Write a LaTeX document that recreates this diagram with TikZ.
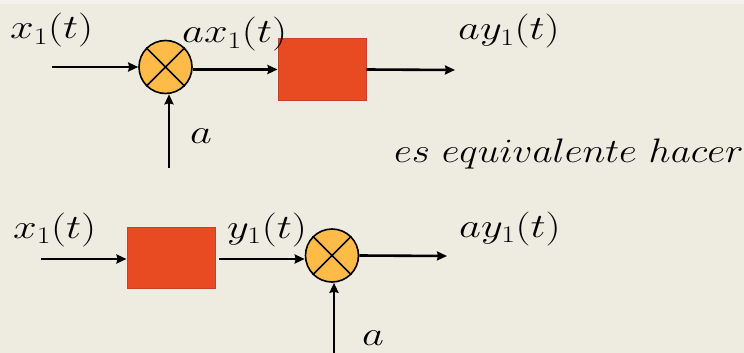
\RequirePackage{fix-cm}
\documentclass[tikz,border=0pt]{standalone}
\usetikzlibrary{arrows.meta}
\definecolor{bg}{HTML}{EEEBE1}
\definecolor{topbg}{HTML}{F3F2EE}
\definecolor{mulfill}{HTML}{FFBB48}
\definecolor{boxfill}{HTML}{E84B22}
\definecolor{boxline}{HTML}{C4422A}
\tikzset{
  sig/.style={line width=2.6pt,-{Stealth[length=10pt,width=9pt,inset=1pt]}},
  lab/.style={font=\fontsize{34}{40}\selectfont,anchor=base west,inner sep=0pt},
  mul/.style={circle,draw=black,line width=1.6pt,fill=mulfill,minimum size=53pt,inner sep=0pt},
  blk/.style={draw=boxline,line width=1pt,fill=boxfill,minimum width=88pt,minimum height=61pt,inner sep=0pt},
}
\newcommand{\crossmul}[1]{%
  \draw[line width=1.6pt] (#1.45) -- (#1.225) (#1.135) -- (#1.315);}
\newcommand{\wide}[1]{\scalebox{1.25}[1]{$#1$}}
\begin{document}
\begin{tikzpicture}[x=1pt,y=-1pt]
\useasboundingbox (0,0) rectangle (744,353);
\fill[bg] (0,0) rectangle (744,353);
\fill[topbg] (0,0) rectangle (744,4);
% top row
\node[mul] (m1) at (165.5,67) {};
\crossmul{m1}
\node[blk] (b1) at (322,69.5) {};
\coordinate (in1) at (52,67);
\coordinate (out1) at (455,70);
\coordinate (a1) at (169,168);
\draw[sig] (in1) -- (m1.west);
\draw[sig] (m1.east |- b1.west) -- (b1.west);
\draw[sig] (b1.east) -- (out1);
\draw[sig] (a1) -- (a1 |- m1.south);
\node[lab] (l1) at (10,39) {\wide{x_1(t)}};
\node[lab] (l2) at (182,43) {\wide{ax_1(t)}};
\node[lab] (l3) at (458,40) {\wide{ay_1(t)}};
\node[lab] (l4) at (190,143) {\wide{a}};
\node[lab] (l5) at (394,162) {\scalebox{1.15}[1]{$es\ equivalente\ hacer$}};
% bottom row
\node[blk] (b2) at (171,257.5) {};
\node[mul] (m2) at (332,255.5) {};
\crossmul{m2}
\coordinate (in2) at (41,259);
\coordinate (out2) at (447,256);
\coordinate (a2) at (334,353);
\draw[sig] (in2) -- (in2 -| b2.west);
\draw[sig] (b2.east |- in2) ++(3,0) coordinate (s2) (s2) -- (s2 -| m2.west);
\draw[sig] (m2.east) -- (out2);
\draw[sig] (a2) -- (a2 |- m2.south);
\node[lab] (l6) at (13,238) {\wide{x_1(t)}};
\node[lab] (l7) at (227,238) {\wide{y_1(t)}};
\node[lab] (l8) at (459,237) {\wide{ay_1(t)}};
\node[lab] (l9) at (362,345) {\wide{a}};
\end{tikzpicture}
\end{document}
